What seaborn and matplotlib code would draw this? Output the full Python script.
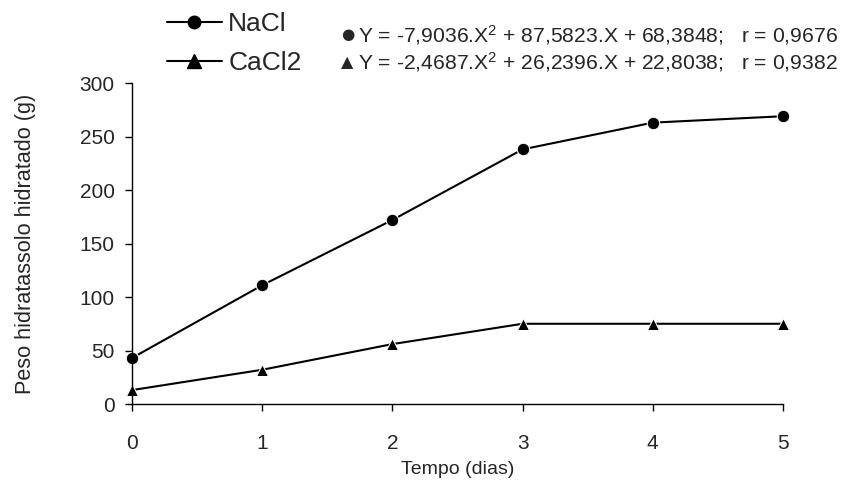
import numpy as np
import pandas as pd
import matplotlib
matplotlib.use('Agg')
import matplotlib.pyplot as plt
import seaborn as sns
from matplotlib.lines import Line2D

# --- data ---
dias = [0, 1, 2, 3, 4, 5]
nacl = [43, 111, 172, 238, 263, 269]
cacl2 = [13, 32, 56, 75, 75, 75]
series_names = ['NaCl', 'CaCl2']
eq_nacl = 'Y = -7,9036.X$^{2}$ + 87,5823.X + 68,3848;   r = 0,9676'
eq_cacl2 = 'Y = -2,4687.X$^{2}$ + 26,2396.X + 22,8038;   r = 0,9382'

df = pd.DataFrame({'dias': dias * 2,
                   'peso': nacl + cacl2,
                   'sal': [series_names[0]] * len(dias) + [series_names[1]] * len(dias)})

sns.set_style('ticks')
fams = ['Liberation Sans', 'DejaVu Sans']
plt.rcParams['font.family'] = fams
plt.rcParams['mathtext.fontset'] = 'custom'
plt.rcParams['mathtext.rm'] = 'Liberation Sans'
plt.rcParams['mathtext.default'] = 'regular'

fig = plt.figure(figsize=(8.46, 4.9), dpi=100)
ax = fig.add_axes([0.156, 0.1755, 0.7695, 0.655])

sns.lineplot(data=df, x='dias', y='peso', hue='sal', style='sal',
             markers={'NaCl': 'o', 'CaCl2': '^'}, dashes=False,
             palette={'NaCl': 'black', 'CaCl2': 'black'},
             markersize=9, linewidth=1.5, legend=False, ax=ax)

ax.set_xlim(0, 5)
ax.set_ylim(0, 300)
ax.set_xticks(range(0, 6))
ax.set_yticks(range(0, 301, 50))
ax.tick_params(axis='both', labelsize=15, length=5, width=1, color='black',
               direction='out')
ax.tick_params(axis='x', pad=16.5)
ax.tick_params(axis='y', pad=7.5)
for side in ['top', 'right']:
    ax.spines[side].set_visible(False)
for side in ['left', 'bottom']:
    ax.spines[side].set_color('black')
    ax.spines[side].set_linewidth(1)
ax.set_xlabel('Tempo (dias)', fontsize=14, labelpad=6)
ax.set_ylabel('Peso hidratassolo hidratado (g)', fontsize=15.6)
ax.yaxis.set_label_coords(-0.148, 0.5)
for ln in ax.lines:
    ln.set_clip_on(False)

# legend top-left
handles = [Line2D([], [], color='black', marker='o', markersize=9, linewidth=1.5),
           Line2D([], [], color='black', marker='^', markersize=10, linewidth=1.5)]
fig.legend(handles, series_names, loc='upper left', bbox_to_anchor=(0.197, 0.975),
           frameon=False, fontsize=19, handlelength=2.1, handletextpad=0.23,
           labelspacing=0.55, borderpad=0, borderaxespad=0)

# equations, with the series symbol in front
fig.text(0.403, 0.929, '\u25cf', fontsize=11, family=['DejaVu Sans'], va='center')
fig.text(0.403, 0.873, '\u25b2', fontsize=11.5, family=['DejaVu Sans'], va='center')
fig.text(0.423, 0.929, eq_nacl, fontsize=15.2, family=fams, va='center')
fig.text(0.423, 0.873, eq_cacl2, fontsize=15.2, family=fams, va='center')

fig.savefig('out.png', dpi=100)
